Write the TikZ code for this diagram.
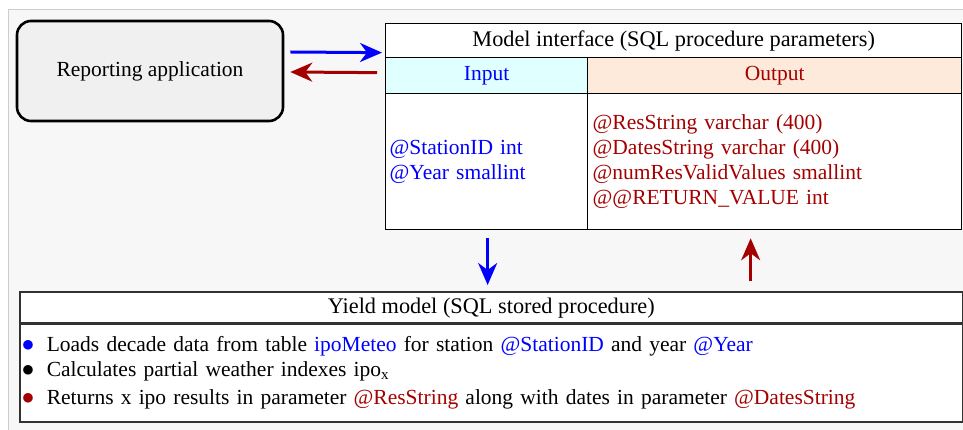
\documentclass[tikz,border=0pt]{standalone}
\usepackage{fontspec}
\setmainfont{Liberation Serif}
\usetikzlibrary{arrows.meta}

\definecolor{parblue}{RGB}{0,0,255}
\definecolor{parred}{RGB}{165,0,0}
\definecolor{inputfill}{RGB}{224,255,255}
\definecolor{outputfill}{RGB}{253,234,218}
\definecolor{framefill}{RGB}{247,247,247}
\definecolor{framegray}{RGB}{205,205,205}
\definecolor{appfill}{RGB}{240,240,240}
\definecolor{boxgray}{RGB}{50,50,50}

\newcommand{\txtsize}{\fontsize{21.5}{25}\selectfont}
\newcommand{\titlesize}{\fontsize{22.3}{25}\selectfont}
\newcommand{\dotitem}[1]{\makebox[25pt][l]{\textcolor{#1}{\fontsize{27}{25}\selectfont$\bullet$}}}

\tikzset{
  cell/.style={draw=black, line width=1.3pt, anchor=north west, inner sep=0pt, font=\txtsize},
  bodycell/.style={cell, align=left, inner xsep=4pt},
  ybox/.style={cell, draw=boxgray, line width=1.6pt},
  flow/.style={line width=3pt, -{Stealth[length=22pt,width=19pt,inset=7pt]}},
}

\begin{document}
\begin{tikzpicture}[x=1pt,y=-1pt]
    \useasboundingbox (0,0) rectangle (963,430);
    % Background frame
    \fill[white] (0,0) rectangle (963,430);
    \fill[framefill] (8,10) rectangle (963,430);
    \draw[framegray, line width=1pt] (8,430) -- (8,10) -- (963,10);

    % Reporting application
    \node[draw, line width=2.6pt, rounded corners=14pt, fill=appfill,
          minimum width=266pt, minimum height=100pt, font=\txtsize] (app) at (150,71) {Reporting application};

    % Model interface table
    \node[cell, fill=white, minimum width=576pt, minimum height=34pt, font=\titlesize] (mtitle) at (385,23)
        {Model interface (SQL procedure parameters)};
    \node[cell, fill=inputfill, minimum width=202pt, minimum height=36pt, text=parblue] (inhead) at (385,57) {Input};
    \node[cell, fill=outputfill, minimum width=374pt, minimum height=36pt, text=parred] (outhead) at (587,57) {Output};
    \node[bodycell, fill=white, text width=194pt, minimum height=136pt, text=parblue] (inbody) at (385,93)
        {@StationID int\\@Year smallint};
    \node[bodycell, fill=white, inner xsep=5pt, text width=364pt, minimum height=136pt, text=parred] (outbody) at (587,93)
        {@ResString varchar (400)\\@DatesString varchar (400)\\@numResValidValues smallint\\@@RETURN\_VALUE int};

    % Yield model box
    \node[ybox, fill=white, minimum width=943pt, minimum height=32pt, font=\titlesize] (ytitle) at (19,291)
        {Yield model (SQL stored procedure)};
    \node[ybox, fill=white, align=left, inner xsep=2pt, text width=939pt, minimum height=98pt] (ybody) at (19,323)
        {\dotitem{parblue}Loads decade data from table \textcolor{parblue}{ipoMeteo} for station \textcolor{parblue}{@StationID} and year \textcolor{parblue}{@Year}\\
         \dotitem{black}Calculates partial weather indexes ipo\textsubscript{x}\\[3pt]
         \dotitem{parred}Returns x ipo results in parameter \textcolor{parred}{@ResString} along with dates in parameter \textcolor{parred}{@DatesString}};
    \draw[boxgray, line width=2pt] (ybody.north west) -- (ybody.north east);

    % Arrows
    \draw[flow, parblue] ([xshift=6pt,yshift=19pt]app.east) -- ([xshift=-3pt,yshift=-12pt]mtitle.west);
    \draw[flow, parred] ([xshift=-8pt,yshift=3pt]inhead.west) -- ([xshift=6pt,yshift=-1pt]app.east);
    \coordinate (btop) at ([xshift=1pt,yshift=-8pt]inbody.south);
    \draw[flow, parblue] (btop) -- ([yshift=6pt]ytitle.north -| btop);
    \coordinate (rtop) at ([xshift=-24pt,yshift=-8pt]outbody.south);
    \draw[flow, parred] ([yshift=10pt]ytitle.north -| rtop) -- (rtop);
\end{tikzpicture}
\end{document}
